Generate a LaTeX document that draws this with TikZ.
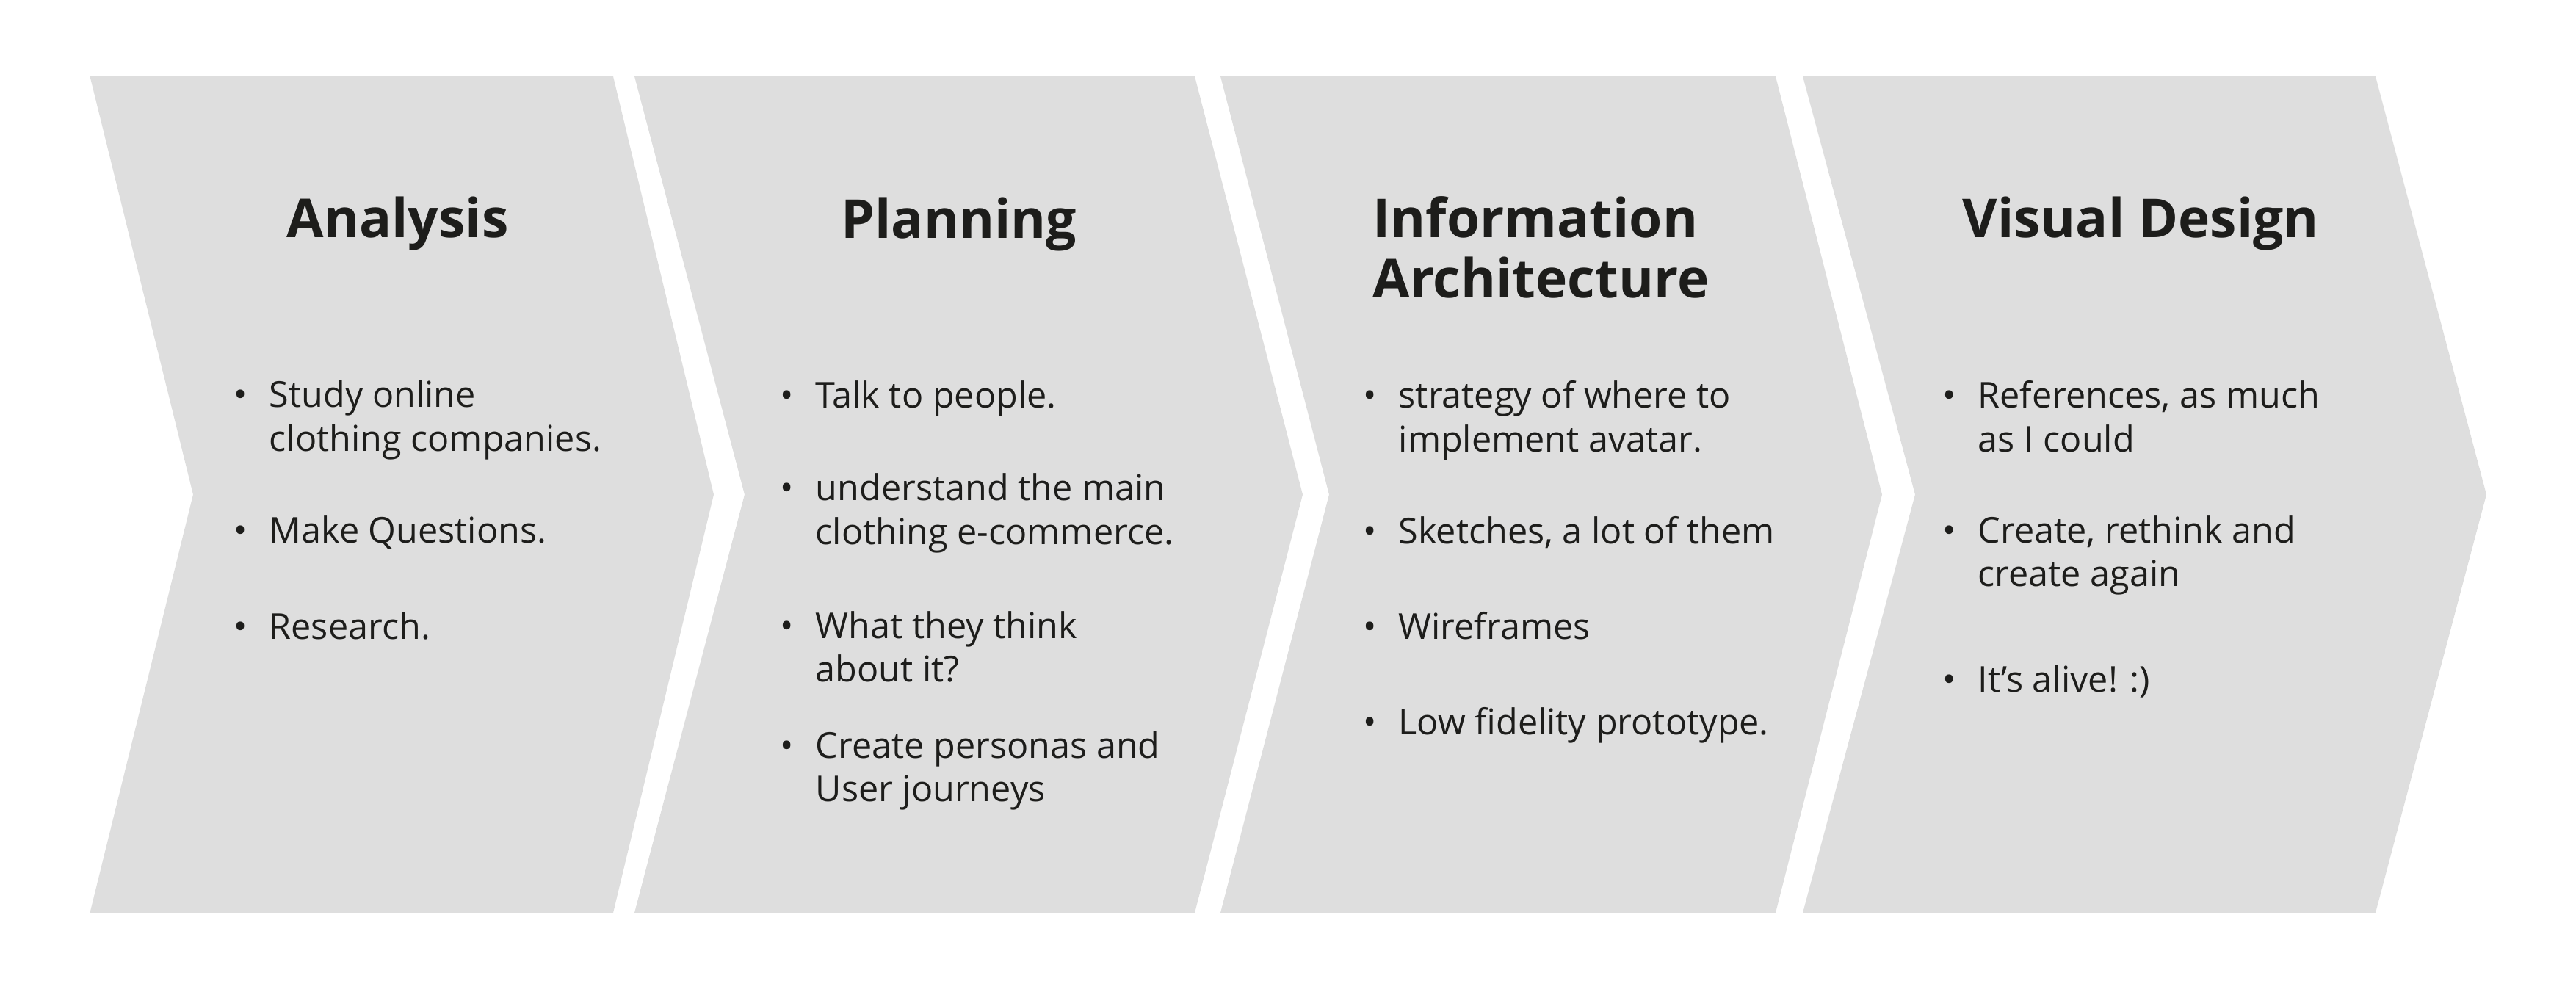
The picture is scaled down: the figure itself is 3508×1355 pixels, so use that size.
\documentclass[tikz,border=0pt]{standalone}
\usepackage{fontspec}
\setmainfont{Open Sans}
\definecolor{chev}{HTML}{DEDEDE}
\definecolor{ink}{HTML}{1D1D1B}
\newcommand\twolines[2]{\parbox[t]{9cm}{\raggedright #1\\#2}}
\tikzset{
  chevron/.style={fill=chev, draw=none},
  head/.style={anchor=base west, inner sep=0pt, text=ink, font=\fontsize{20.8}{23.3}\selectfont\bfseries},
  itemtext/.style={anchor=base west, inner sep=0pt, text=ink, font=\fontsize{13.8}{16.9}\selectfont},
  bul/.style={anchor=base, inner sep=0pt, text=ink, font=\fontsize{13.8}{16.9}\selectfont},
}
\begin{document}
\begin{tikzpicture}[x=0.01cm, y=-0.01cm]
\useasboundingbox (0,0) rectangle (3508,1355);
% chevrons
\fill[chevron] (122.5,104) -- (835,104) -- (972,673.5) -- (835,1243) -- (122.5,1243) -- (263,673.5) -- cycle;
\fill[chevron] (864,104) -- (1627,104) -- (1774,673.5) -- (1627,1243) -- (864,1243) -- (1014,673.5) -- cycle;
\fill[chevron] (1662,104) -- (2418,104) -- (2563,673.5) -- (2418,1243) -- (1662,1243) -- (1810,673.5) -- cycle;
\fill[chevron] (2455,104) -- (3235,104) -- (3386,673.5) -- (3235,1243) -- (2455,1243) -- (2608,673.5) -- cycle;
% headings
\node[head] (h1) at (390,324) {Analysis};
\node[head] (h2) at (1145,325) {Planning};
\node[head] (h3) at (1869,324) {\twolines{Information}{Architecture}};
\node[head] (h4) at (2672,324) {Visual Design};
% column 1
\node[bul] (b11) at (328,555) {•};
\node[itemtext] (t11) at (366,555) {\twolines{Study online}{clothing companies.}};
\node[bul] (b12) at (328,739) {•};
\node[itemtext] (t12) at (366,739) {Make Questions.};
\node[bul] (b13) at (328,870) {•};
\node[itemtext] (t13) at (366,870) {Research.};
% column 2
\node[bul] (b21) at (1072,556) {•};
\node[itemtext] (t21) at (1110,556) {Talk to people.};
\node[bul] (b22) at (1072,682) {•};
\node[itemtext] (t22) at (1110,682) {\twolines{understand the main}{clothing e-commerce.}};
\node[bul] (b23) at (1072,869) {•};
\node[itemtext] (t23) at (1110,869) {\twolines{What they think}{about it?}};
\node[bul] (b24) at (1072,1032) {•};
\node[itemtext] (t24) at (1110,1032) {\twolines{Create personas and}{User journeys}};
% column 3
\node[bul] (b31) at (1866,556) {•};
\node[itemtext] (t31) at (1904,556) {\twolines{strategy of where to}{implement avatar.}};
\node[bul] (b32) at (1866,740) {•};
\node[itemtext] (t32) at (1904,740) {Sketches, a lot of them};
\node[bul] (b33) at (1866,870) {•};
\node[itemtext] (t33) at (1904,870) {Wireframes};
\node[bul] (b34) at (1866,1000) {•};
\node[itemtext] (t34) at (1904,1000) {Low fidelity prototype.};
% column 4
\node[bul] (b41) at (2655,556) {•};
\node[itemtext] (t41) at (2693,556) {\twolines{References, as much}{as I could}};
\node[bul] (b42) at (2655,739) {•};
\node[itemtext] (t42) at (2693,739) {\twolines{Create, rethink and}{create again}};
\node[bul] (b43) at (2655,942) {•};
\node[itemtext] (t43) at (2693,942) {It’s alive! :)};
\end{tikzpicture}
\end{document}
